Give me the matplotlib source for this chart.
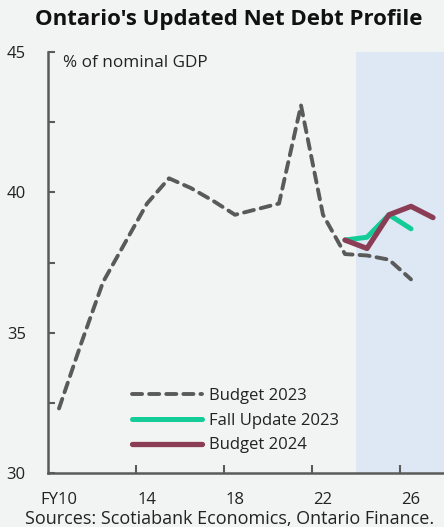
import matplotlib
matplotlib.use("Agg")
import matplotlib.pyplot as plt

# Net debt-to-GDP, plotted at mid fiscal year
budget23_years = [10.5, 11.5, 12.5, 13.5, 14.5, 15.5, 16.5, 17.5, 18.5, 19.5,
                  20.5, 21.5, 22.5, 23.5, 24.5, 25.5, 26.5]
budget23_vals = [32.3, 34.6, 36.8, 38.2, 39.6, 40.5, 40.15, 39.7, 39.2, 39.4,
                 39.6, 43.1, 39.2, 37.8, 37.75, 37.6, 36.9]
fall23_years = [23.5, 24.5, 25.5, 26.5]
fall23_vals = [38.3, 38.4, 39.2, 38.7]
budget24_years = [23.5, 24.5, 25.5, 26.5, 27.5]
budget24_vals = [38.3, 38.0, 39.2, 39.5, 39.1]

tick_years = [14, 18, 22, 26]
xtick_labels = ["FY10", "14", "18", "22", "26"]
xlabel_pos = [10.5, 14.5, 18.5, 22.5, 26.5]
yticks = [30, 35, 40, 45]

BG = "#f2f4f3"
SHADE = "#dde8f4"
GREY = "#5a5a5a"
GREEN = "#14cc98"
MAROON = "#8c3d56"
TXT = "#222222"

plt.rcParams["font.family"] = ["Open Sans", "DejaVu Sans"]

fig = plt.figure(figsize=(4.44, 5.27), dpi=100, facecolor=BG)
ax = fig.add_axes([48 / 444, 1 - 473 / 527, 1 - 48 / 444, (473 - 52) / 527])
ax.set_facecolor(BG)

ax.set_xlim(10, 28)
ax.set_ylim(30, 45)

ax.axvspan(24, 28, color=SHADE, zorder=0, lw=0)

ax.plot(budget23_years, budget23_vals, color=GREY, lw=2.8, ls=(0, (2.6, 1.8)),
        dash_capstyle="round", label="Budget 2023", zorder=3)
ax.plot(fall23_years, fall23_vals, color=GREEN, lw=3.6, solid_capstyle="round",
        label="Fall Update 2023", zorder=4)
ax.plot(budget24_years, budget24_vals, color=MAROON, lw=3.8, solid_capstyle="round",
        label="Budget 2024", zorder=5)

for side in ("top", "right"):
    ax.spines[side].set_visible(False)
for side in ("left", "bottom"):
    ax.spines[side].set_color(GREY)
    ax.spines[side].set_linewidth(1.8)

ax.set_yticks(yticks)
ax.set_yticks([32.5, 37.5, 42.5], minor=True)
ax.tick_params(axis="y", which="both", direction="in", length=5, width=1.5,
               color=GREY, labelsize=12, labelcolor=TXT, pad=16)

ax.set_xticks(tick_years)
ax.set_xticklabels([])
ax.set_xticks(xlabel_pos, minor=True)
ax.set_xticklabels(xtick_labels, minor=True)
ax.tick_params(axis="x", which="major", direction="in", length=6, width=1.5, color=GREY)
ax.tick_params(axis="x", which="minor", length=0, labelsize=12, labelcolor=TXT, pad=14)

ax.text(63 / 444, 1 - 63 / 527, "% of nominal GDP", transform=fig.transFigure,
        fontsize=12.3, color=TXT, va="center", ha="left")

leg = ax.legend(loc="upper left", bbox_to_anchor=(84 / 396, 85 / 421),
                frameon=False, fontsize=12, handlelength=4.2, handletextpad=0.4,
                labelspacing=0.52, borderaxespad=0, borderpad=0)
for t in leg.get_texts():
    t.set_color(TXT)

fig.text(229 / 444, 1 - 20 / 527, "Ontario's Updated Net Debt Profile", ha="center",
         va="center", fontsize=16, fontweight="bold", color="#111111")
fig.text(230 / 444, 1 - 519 / 527, "Sources: Scotiabank Economics, Ontario Finance.",
         ha="center", va="center", fontsize=13, color=TXT)

fig.savefig("out.png", dpi=100, facecolor=BG)
